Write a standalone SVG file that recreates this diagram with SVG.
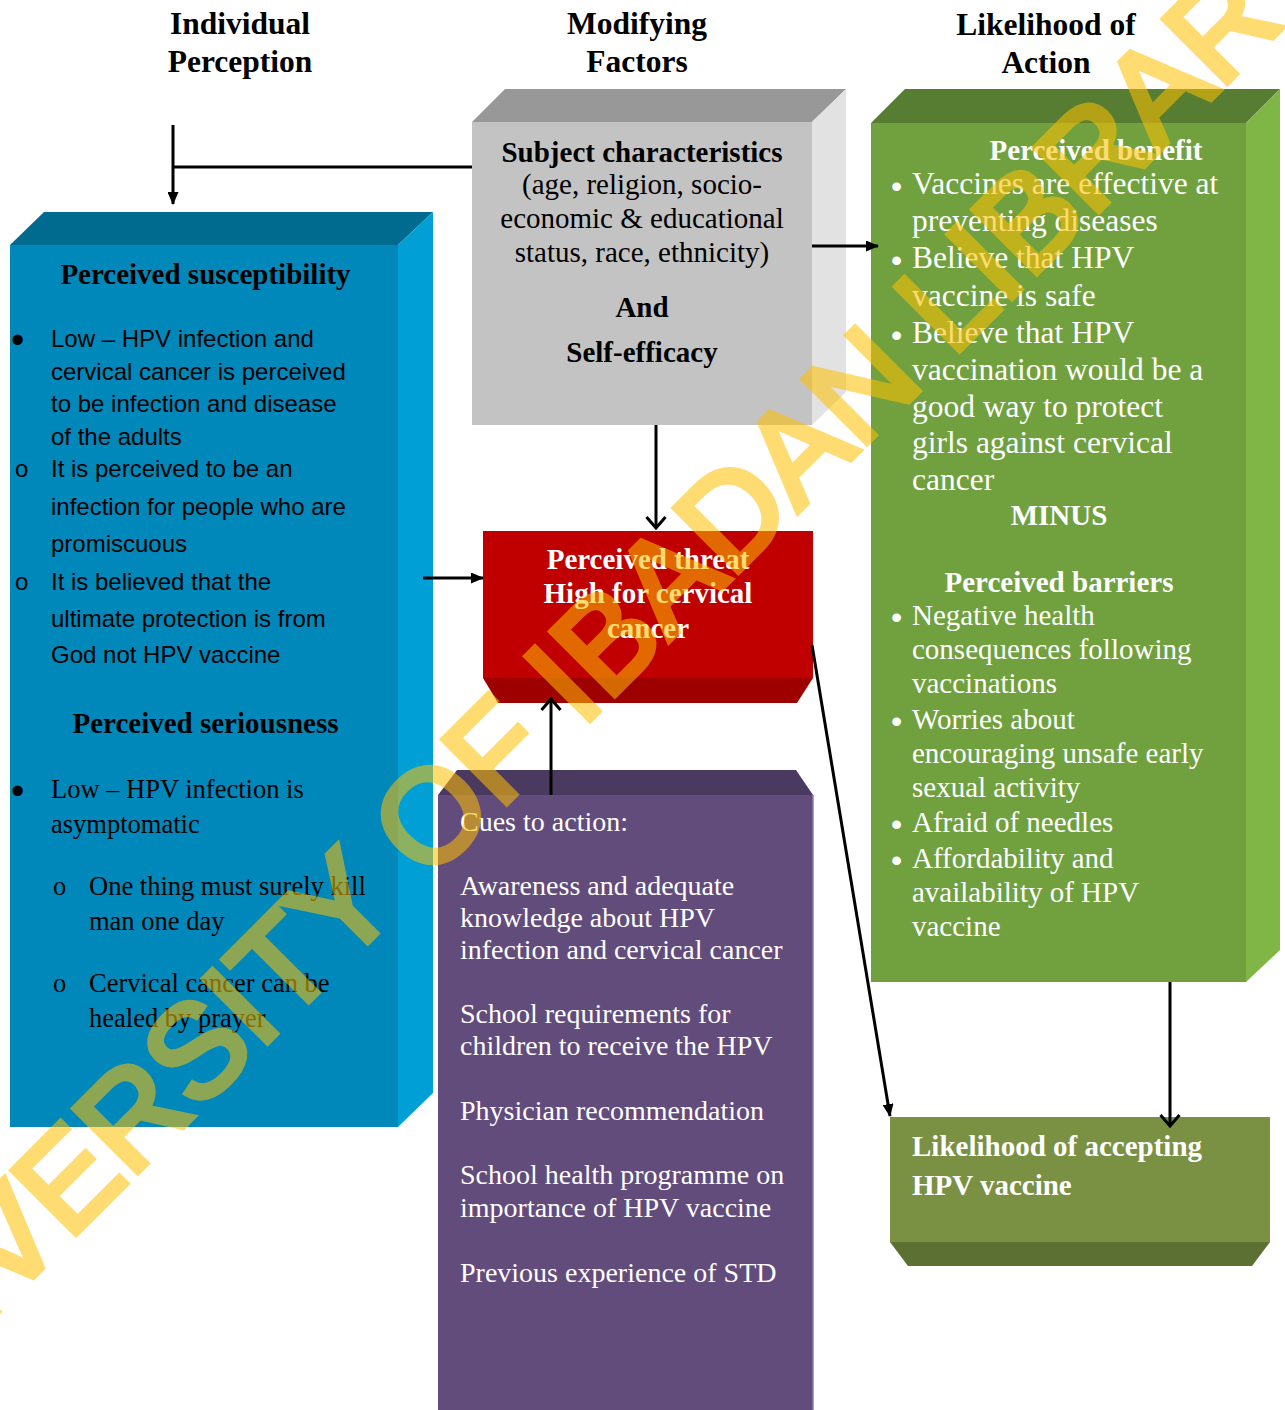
<svg xmlns="http://www.w3.org/2000/svg" width="1285" height="1410" viewBox="0 0 1285 1410">
<style>
.h{font-family:"Liberation Serif","Times New Roman",serif;font-weight:bold;font-size:31.5px;fill:#000;text-anchor:middle}
.tb{font-family:"Liberation Serif","Times New Roman",serif;font-weight:bold;font-size:29px}
.tr{font-family:"Liberation Serif","Times New Roman",serif;font-size:29px}
.sans{font-family:"Liberation Sans",Arial,sans-serif;font-size:24px;fill:#000}
.bul{font-family:"Liberation Sans",Arial,sans-serif;font-size:38px;fill:#000}
.ser26{font-family:"Liberation Serif","Times New Roman",serif;font-size:26.5px;fill:#000}
.g31{font-family:"Liberation Serif","Times New Roman",serif;font-size:31.5px;fill:#fff}
.g29{font-family:"Liberation Serif","Times New Roman",serif;font-size:29px;fill:#fff}
.gb{font-family:"Liberation Sans",Arial,sans-serif;font-size:32px;fill:#fff}
.pur{font-family:"Liberation Serif","Times New Roman",serif;font-size:28px;fill:#fff}
.mid{text-anchor:middle}
.w{fill:#fff}
.k{fill:#000}
.conn{stroke:#000;stroke-width:3;fill:none}
</style>
<defs>
<marker id="tri" viewBox="0 0 13 11" refX="12" refY="5.5" markerWidth="13" markerHeight="11" orient="auto" markerUnits="userSpaceOnUse"><path d="M0,0 L13,5.5 L0,11 z" fill="#000"/></marker>
<marker id="vee" viewBox="0 0 14 22" refX="12" refY="11" markerWidth="14" markerHeight="22" orient="auto" markerUnits="userSpaceOnUse"><path d="M1,1.5 L12,11 L1,20.5" fill="none" stroke="#000" stroke-width="3"/></marker>
</defs>
<rect width="1285" height="1410" fill="#fff"/>

<g id="headers">
<text class="h" x="240" y="34">Individual</text>
<text class="h" x="240" y="72">Perception</text>
<text class="h" x="637" y="34">Modifying</text>
<text class="h" x="637" y="72">Factors</text>
<text class="h" x="1046" y="35">Likelihood of</text>
<text class="h" x="1046" y="73">Action</text>
</g>

<g id="node-susceptibility">
<polygon points="10,245 44,212 433,212 398,245" fill="#006B8F"/>
<polygon points="398,245 433,212 433,1093 398,1127" fill="#00A0D6"/>
<rect x="10" y="245" width="388" height="882" fill="#0088BB"/>
<text class="tb k mid" x="205.5" y="284">Perceived susceptibility</text>
<text class="bul" x="11" y="353">•</text>
<text class="sans" x="51" y="347">Low – HPV infection and</text>
<text class="sans" x="51" y="380">cervical cancer is perceived</text>
<text class="sans" x="51" y="412">to be infection and disease</text>
<text class="sans" x="51" y="445">of the adults</text>
<text class="sans" x="15" y="477">o</text>
<text class="sans" x="51" y="477">It is perceived to be an</text>
<text class="sans" x="51" y="515">infection for people who are</text>
<text class="sans" x="51" y="552">promiscuous</text>
<text class="sans" x="15" y="590">o</text>
<text class="sans" x="51" y="590">It is believed that the</text>
<text class="sans" x="51" y="627">ultimate protection is from</text>
<text class="sans" x="51" y="663">God not HPV vaccine</text>
<text class="tb k mid" x="205.5" y="733">Perceived seriousness</text>
<text class="bul" x="11" y="804">•</text>
<text class="ser26" x="51" y="798">Low – HPV infection is</text>
<text class="ser26" x="51" y="833">asymptomatic</text>
<text class="ser26" x="53" y="895">o</text>
<text class="ser26" x="89" y="895">One thing must surely kill</text>
<text class="ser26" x="89" y="930">man one day</text>
<text class="ser26" x="53" y="992">o</text>
<text class="ser26" x="89" y="992">Cervical cancer can be</text>
<text class="ser26" x="89" y="1027">healed by prayer</text>
</g>

<g id="node-modifying">
<polygon points="472,122 505,89 846,89 812,122" fill="#989898"/>
<polygon points="812,122 846,89 846,392 812,425" fill="#E2E2E2"/>
<rect x="472" y="122" width="340" height="303" fill="#C3C3C3"/>
<text class="tb k mid" x="642" y="162">Subject characteristics</text>
<text class="tr k mid" x="642" y="194">(age, religion, socio-</text>
<text class="tr k mid" x="642" y="228">economic &amp; educational</text>
<text class="tr k mid" x="642" y="262">status, race, ethnicity)</text>
<text class="tb k mid" x="642" y="317">And</text>
<text class="tb k mid" x="642" y="362">Self-efficacy</text>
</g>

<g id="node-threat">
<polygon points="483,678 813,678 797,703 498,703" fill="#9E0000"/>
<rect x="483" y="531" width="330" height="147" fill="#C00000"/>
<text class="tb w mid" x="648" y="569">Perceived threat</text>
<text class="tb w mid" x="648" y="603">High for cervical</text>
<text class="tb w mid" x="648" y="638">cancer</text>
</g>

<g id="node-cues">
<polygon points="438,795 457,770 796,770 813,795" fill="#4B3A60"/>
<rect x="438" y="795" width="375" height="615" fill="#624C7C"/>
<line x1="813" y1="795" x2="813" y2="1410" stroke="#8E7FAE" stroke-width="1.5"/>
<text class="pur" x="460" y="831">Cues to action:</text>
<text class="pur" x="460" y="895">Awareness and adequate</text>
<text class="pur" x="460" y="927">knowledge about HPV</text>
<text class="pur" x="460" y="959">infection and cervical cancer</text>
<text class="pur" x="460" y="1023">School requirements for</text>
<text class="pur" x="460" y="1055">children to receive the HPV</text>
<text class="pur" x="460" y="1120">Physician recommendation</text>
<text class="pur" x="460" y="1184">School health programme on</text>
<text class="pur" x="460" y="1217">importance of HPV vaccine</text>
<text class="pur" x="460" y="1282">Previous experience of STD</text>
</g>

<g id="node-benefit">
<polygon points="871,123 905,89 1280,89 1246,123" fill="#567D31"/>
<polygon points="1246,123 1280,89 1280,950 1246,982" fill="#7FB646"/>
<rect x="871" y="123" width="375" height="859" fill="#71A13F"/>
<text class="tb w mid" x="1096" y="160">Perceived benefit</text>
<text class="gb" x="891" y="197">•</text>
<text class="g31" x="912" y="194">Vaccines are effective at</text>
<text class="g31" x="912" y="231">preventing diseases</text>
<text class="gb" x="891" y="271">•</text>
<text class="g31" x="912" y="268">Believe that HPV</text>
<text class="g31" x="912" y="306">vaccine is safe</text>
<text class="gb" x="891" y="346">•</text>
<text class="g31" x="912" y="343">Believe that HPV</text>
<text class="g31" x="912" y="380">vaccination would be a</text>
<text class="g31" x="912" y="417">good way to protect</text>
<text class="g31" x="912" y="453">girls against cervical</text>
<text class="g31" x="912" y="490">cancer</text>
<text class="tb w mid" x="1059" y="525">MINUS</text>
<text class="tb w mid" x="1059" y="592">Perceived barriers</text>
<text class="gb" x="891" y="628">•</text>
<text class="g29" x="912" y="625">Negative health</text>
<text class="g29" x="912" y="659">consequences following</text>
<text class="g29" x="912" y="693">vaccinations</text>
<text class="gb" x="891" y="732">•</text>
<text class="g29" x="912" y="729">Worries about</text>
<text class="g29" x="912" y="763">encouraging unsafe early</text>
<text class="g29" x="912" y="797">sexual activity</text>
<text class="gb" x="891" y="835">•</text>
<text class="g29" x="912" y="832">Afraid of needles</text>
<text class="gb" x="891" y="871">•</text>
<text class="g29" x="912" y="868">Affordability and</text>
<text class="g29" x="912" y="902">availability of HPV</text>
<text class="g29" x="912" y="936">vaccine</text>
</g>

<g id="node-outcome">
<polygon points="890,1242 1270,1242 1252,1266 908,1266" fill="#5D7033"/>
<rect x="890" y="1117" width="380" height="125" fill="#7A9144"/>
<text class="tb w" x="912" y="1156">Likelihood of accepting</text>
<text class="tb w" x="912" y="1195">HPV vaccine</text>
</g>

<g id="connectors">
<polyline class="conn" points="472,167 173,167"/>
<line class="conn" x1="173" y1="125" x2="173" y2="204" marker-end="url(#tri)"/>
<line class="conn" x1="812" y1="246" x2="878" y2="246" marker-end="url(#tri)"/>
<line class="conn" x1="656" y1="425" x2="656" y2="528" marker-end="url(#vee)"/>
<line class="conn" x1="423" y1="578" x2="483" y2="578" marker-end="url(#tri)"/>
<line class="conn" x1="551" y1="795" x2="551" y2="699" marker-end="url(#vee)"/>
<line class="conn" x1="812" y1="645" x2="890" y2="1116" marker-end="url(#tri)"/>
<line class="conn" x1="1170" y1="982" x2="1170" y2="1126" marker-end="url(#vee)"/>
</g>

<g id="watermark" opacity="0.55">
<text x="0" y="0" transform="translate(597,713) rotate(-45)" text-anchor="middle" font-family="Liberation Sans, Arial, sans-serif" font-size="131px" fill="#FFC000" stroke="#FFC000" stroke-width="6">UNIVERSITY OF IBADAN LIBRARY</text>
</g>
</svg>
